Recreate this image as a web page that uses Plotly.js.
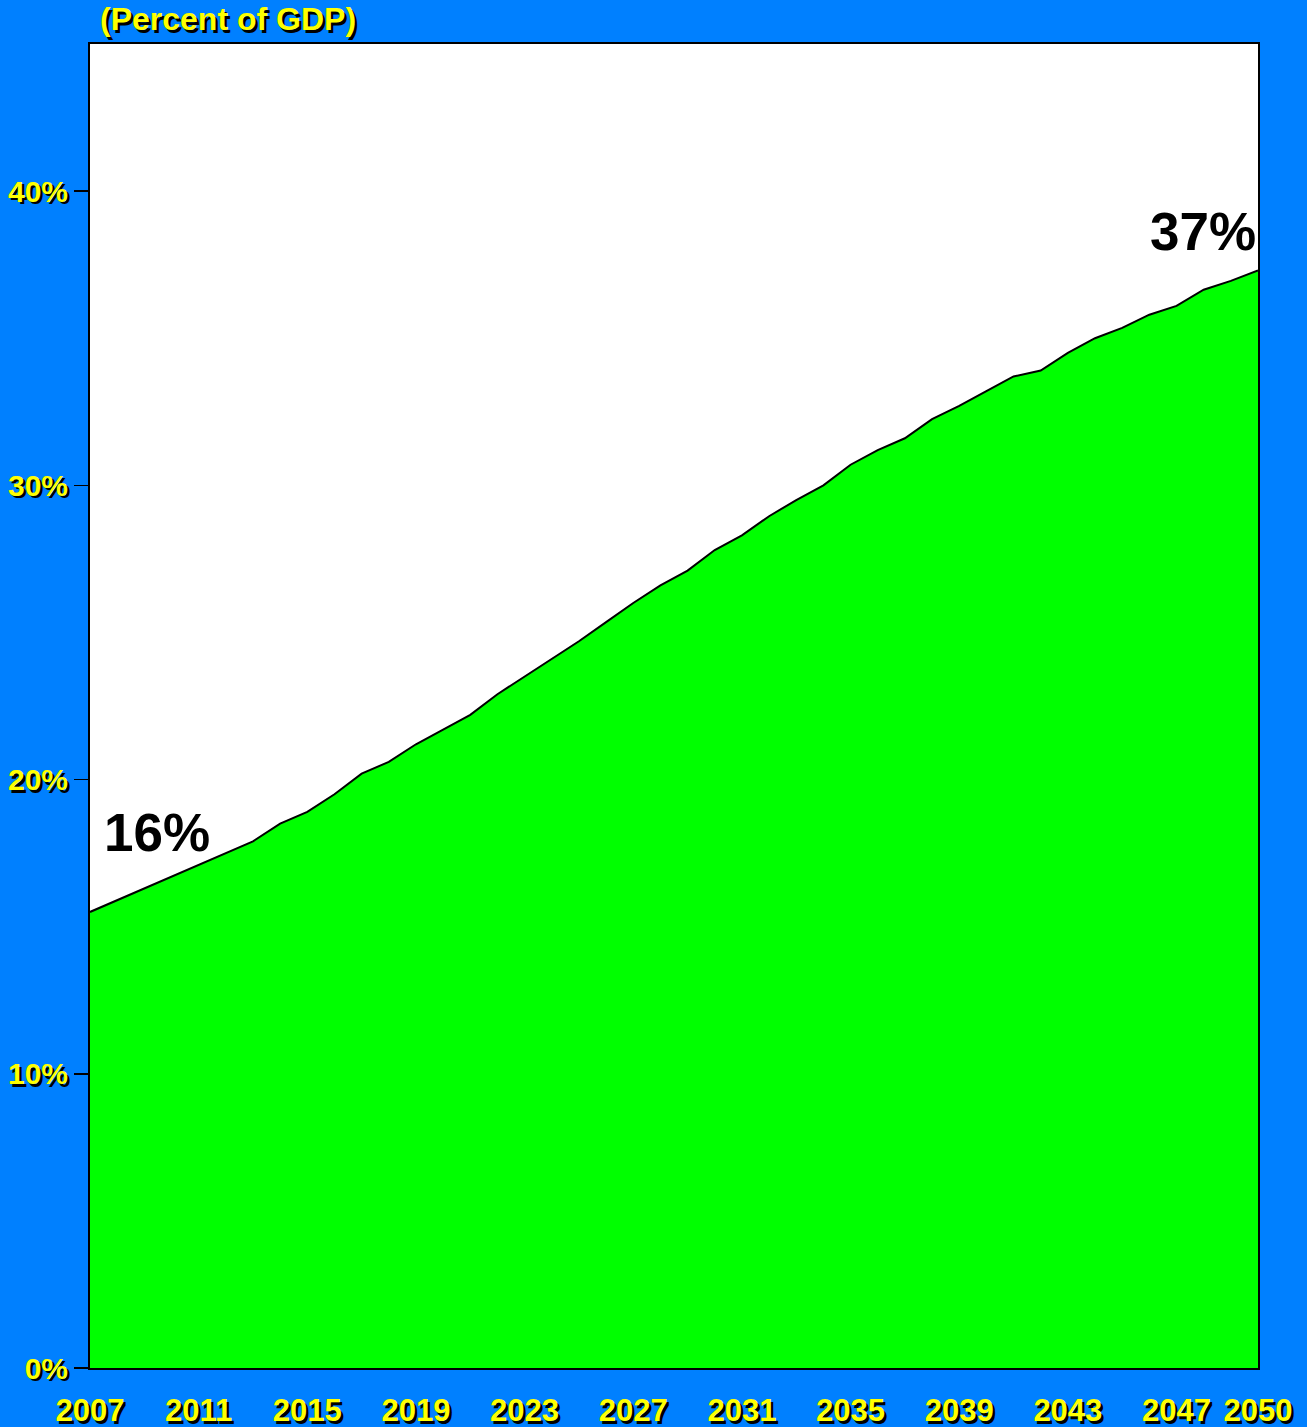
<!DOCTYPE html>
<html>
<head>
<meta charset="utf-8">
<script src="https://cdn.plot.ly/plotly-3.0.1.min.js"></script>
<style>html,body{margin:0;padding:0;background:#0080FF;}#chart{width:1307px;height:1427px;}</style>
</head>
<body>
<div id="chart"></div>
<script>
const years = [2007,2008,2009,2010,2011,2012,2013,2014,2015,2016,2017,2018,2019,2020,2021,2022,2023,2024,2025,2026,2027,2028,2029,2030,2031,2032,2033,2034,2035,2036,2037,2038,2039,2040,2041,2042,2043,2044,2045,2046,2047,2048,2049,2050];
const percentOfGDP = [15.5,15.9,16.3,16.7,17.1,17.5,17.9,18.5,18.9,19.5,20.2,20.6,21.2,21.7,22.2,22.9,23.5,24.1,24.7,25.35,26.0,26.6,27.1,27.8,28.3,28.95,29.5,30.0,30.7,31.2,31.6,32.25,32.7,33.2,33.7,33.9,34.5,35.0,35.35,35.8,36.1,36.65,36.95,37.3];
const xTickVals = [2007,2011,2015,2019,2023,2027,2031,2035,2039,2043,2047,2050];
const xTickText = ['2007','2011','2015','2019','2023','2027','2031','2035','2039','2043','2047','2050'];
const yTickVals = [0,10,20,30,40];
const yTickText = ['0%','10%','20%','30%','40%'];
const titleText = '(Percent of GDP)';
const startLabel = '16%';
const endLabel = '37%';

const shadow = '2.5px 2.5px 0px #000000';
const xTickFont = {family: 'Liberation Sans, Arial, sans-serif', size: 31, color: '#FFFF00', weight: 'bold', shadow: shadow};
const yTickFont = {family: 'Liberation Sans, Arial, sans-serif', size: 30, color: '#FFFF00', weight: 'bold', shadow: shadow};

const trace = {
  x: years, y: percentOfGDP, type: 'scatter', mode: 'lines',
  fill: 'tozeroy', fillcolor: '#00FF00',
  line: {color: '#000000', width: 2},
  hoverinfo: 'skip'
};

const layout = {
  width: 1307, height: 1427,
  paper_bgcolor: '#0080FF', plot_bgcolor: '#FFFFFF',
  margin: {l: 90, r: 49, t: 44, b: 59},
  showlegend: false,
  title: {text: titleText, x: 100/1307, xref: 'container', xanchor: 'left', y: 1 - 19/1427, yref: 'container', yanchor: 'middle',
          font: {family: 'Liberation Sans, Arial, sans-serif', size: 32, color: '#FFFF00', weight: 'bold', shadow: shadow}},
  xaxis: {range: [2007, 2050], tickvals: xTickVals, ticktext: xTickText, showgrid: false, zeroline: false,
          showline: true, linecolor: '#000000', linewidth: 2, mirror: true,
          ticks: 'outside', ticklen: 14, tickcolor: 'rgba(0,0,0,0)', tickfont: xTickFont},
  yaxis: {range: [0, 45], tickvals: yTickVals, ticktext: yTickText, showgrid: false, zeroline: false,
          showline: true, linecolor: '#000000', linewidth: 2, mirror: true,
          ticks: 'outside', ticklen: 14, tickwidth: 1.5, tickcolor: '#000000', tickfont: yTickFont},
  annotations: [
    {text: startLabel, x: 2007.45, y: 18.2, xref: 'x', yref: 'y', xanchor: 'left', yanchor: 'middle', showarrow: false,
     font: {family: 'Liberation Sans, Arial, sans-serif', size: 53, color: '#000000', weight: 'bold'}},
    {text: endLabel, x: 2050, y: 38.64, xref: 'x', yref: 'y', xanchor: 'right', yanchor: 'middle', showarrow: false,
     font: {family: 'Liberation Sans, Arial, sans-serif', size: 53, color: '#000000', weight: 'bold'}}
  ]
};

Plotly.newPlot('chart', [trace], layout, {displayModeBar: false, staticPlot: true});
</script>
</body>
</html>
